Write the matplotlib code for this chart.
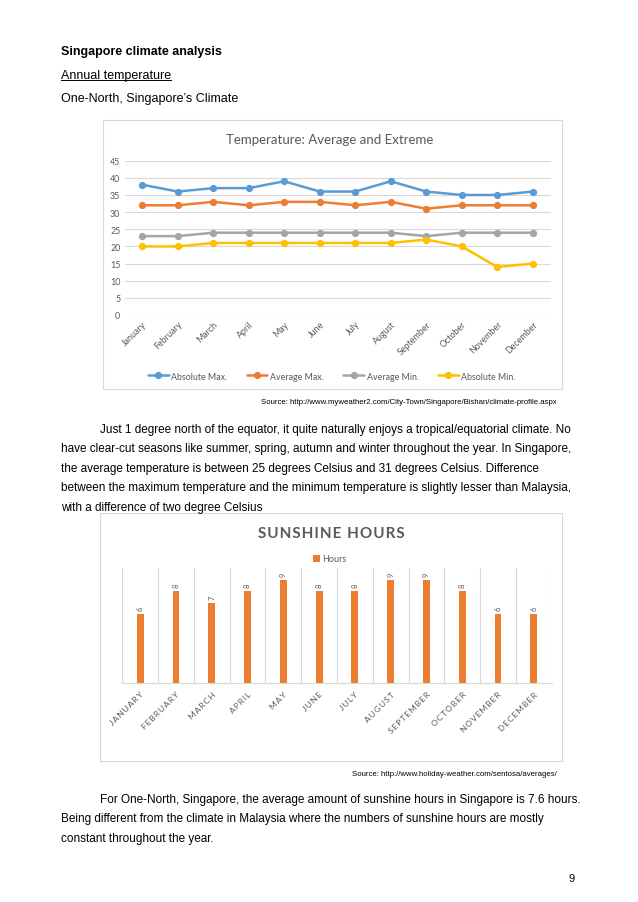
import matplotlib
matplotlib.use("Agg")
import matplotlib.pyplot as plt
from matplotlib.lines import Line2D
from matplotlib.patches import Rectangle

W, H = 638, 903

months = ["January", "February", "March", "April", "May", "June", "July",
          "August", "September", "October", "November", "December"]
abs_max = [38, 36, 37, 37, 39, 36, 36, 39, 36, 35, 35, 36]
avg_max = [32, 32, 33, 32, 33, 33, 32, 33, 31, 32, 32, 32]
avg_min = [23, 23, 24, 24, 24, 24, 24, 24, 23, 24, 24, 24]
abs_min = [20, 20, 21, 21, 21, 21, 21, 21, 22, 20, 14, 15]
series_names = ["Absolute Max.", "Average Max.", "Average Min.", "Absolute Min."]
temp_ticks = [0, 5, 10, 15, 20, 25, 30, 35, 40, 45]

sun_hours = [6, 8, 7, 8, 9, 8, 8, 9, 9, 8, 6, 6]

para1 = [
    "Just 1 degree north of the equator, it quite naturally enjoys a tropical/equatorial climate. No",
    "have clear-cut seasons like summer, spring, autumn and winter throughout the year. In Singapore,",
    "the average temperature is between 25 degrees Celsius and 31 degrees Celsius. Difference",
    "between the maximum temperature and the minimum temperature is slightly lesser than Malaysia,",
    "with a difference of two degree Celsius",
]
para2 = [
    "For One-North, Singapore, the average amount of sunshine hours in Singapore is 7.6 hours.",
    "Being different from the climate in Malaysia where the numbers of sunshine hours are mostly",
    "constant throughout the year.",
]

colors = ["#5B9BD5", "#ED7D31", "#A5A5A5", "#FFC000"]
grey = "#595959"
grid = "#D9D9D9"
page_font = "Liberation Sans"
chart_font = "Lato"


def fx(x):
    return x / W


def fy(y):
    return 1 - y / H


def ax_rect(x0, y0, x1, y1):
    return [fx(x0), fy(y1), (x1 - x0) / W, (y1 - y0) / H]


def spaced(s, sep="\u200a"):
    return sep.join(s)


fig = plt.figure(figsize=(W / 100, H / 100), dpi=100)
fig.patch.set_facecolor("white")

# page text
fs = 8.5
fs_head = 9.0
fig.text(fx(61), fy(52), "Singapore climate analysis", fontsize=fs_head,
         fontweight="bold", family=page_font, va="center")
t_ann = fig.text(fx(61), fy(76), "Annual temperature", fontsize=fs_head,
                 family=page_font, va="center")
fig.text(fx(61), fy(99), "One-North, Singapore\u2019s Climate", fontsize=fs_head,
         family=page_font, va="center")

for i, line in enumerate(para1):
    x = 100 if i == 0 else 61
    fig.text(fx(x), fy(430 + i * 19.4), line, fontsize=fs, family=page_font,
             va="center")
for i, line in enumerate(para2):
    x = 100 if i == 0 else 61
    fig.text(fx(x), fy(800 + i * 19.3), line, fontsize=fs, family=page_font,
             va="center")

fig.text(fx(557), fy(403),
         "Source: http://www.myweather2.com/City-Town/Singapore/Bishan/climate-profile.aspx",
         fontsize=5.6, family=page_font, ha="right", va="center")
fig.text(fx(557), fy(775), "Source: http://www.holiday-weather.com/sentosa/averages/",
         fontsize=5.6, family=page_font, ha="right", va="center")
fig.text(fx(575), fy(879), "9", fontsize=8, family=page_font, ha="right",
         va="center")

# chart boxes
fig.add_artist(Rectangle((fx(103), fy(390)), (562 - 103) / W, (390 - 121) / H,
                         transform=fig.transFigure, fill=False, ec=grid, lw=0.8))
fig.add_artist(Rectangle((fx(100), fy(762)), (562 - 100) / W, (762 - 514) / H,
                         transform=fig.transFigure, fill=False, ec=grid, lw=0.8))

# temperature chart
ax1 = fig.add_axes(ax_rect(124.5, 161.7, 550.5, 316))
xs = list(range(len(months)))
for vals, c, name in zip([abs_max, avg_max, avg_min, abs_min], colors, series_names):
    ax1.plot(xs, vals, color=c, lw=1.8, marker="o", ms=4.2, label=name,
             solid_capstyle="round")
ax1.set_xlim(-0.5, len(months) - 0.5)
ax1.set_ylim(0, 45)
ax1.set_yticks(temp_ticks)
ax1.yaxis.grid(True, color=grid, lw=0.8)
ax1.set_axisbelow(True)
for s in ax1.spines.values():
    s.set_visible(False)
ax1.tick_params(length=0, colors=grey, labelsize=6.4, pad=3)
ax1.set_xticks(xs)
ax1.set_xticklabels(months, rotation=45, ha="right", rotation_mode="anchor",
                    family=chart_font)
for lab in ax1.get_yticklabels():
    lab.set_family(chart_font)
fig.text(fx(330), fy(140), "Temperature: Average and Extreme", fontsize=9.5,
         color=grey, family=chart_font, ha="center", va="center")
fig.legend(*ax1.get_legend_handles_labels(), loc="center",
           bbox_to_anchor=(fx(332), fy(377)), ncol=4, frameon=False,
           prop={"family": chart_font, "size": 6.4}, labelcolor=grey,
           handlelength=2.3, handletextpad=0.3, columnspacing=2.2)

# sunshine chart
ax2 = fig.add_axes(ax_rect(122.3, 569.3, 551.7, 684))
bars = ax2.bar(xs, sun_hours, width=0.19, color=colors[1], label="Hours", zorder=3)
ax2.set_xlim(-0.5, len(months) - 0.5)
ax2.set_ylim(0, 10)
ax2.set_yticks([])
ax2.set_xticks([x - 0.5 for x in xs] + [len(months) - 0.5], minor=True)
ax2.xaxis.grid(True, which="minor", color=grid, lw=0.8)
for k in ["top", "left", "right"]:
    ax2.spines[k].set_visible(False)
ax2.spines["bottom"].set_color(grid)
ax2.set_xticks(xs)
ax2.set_xticklabels([spaced(m.upper(), "\u2009") for m in months], rotation=45,
                    ha="right", rotation_mode="anchor",
                    family=[chart_font, "DejaVu Sans"])
ax2.tick_params(which="both", length=0, colors=grey, labelsize=6.0, pad=5)
for b, v in zip(bars, sun_hours):
    ax2.annotate(str(v), (b.get_x() + b.get_width() / 2, v), xytext=(0, 3),
                 textcoords="offset points", rotation=90, ha="center",
                 va="bottom", fontsize=5.5, color=grey, family=chart_font)
fig.text(fx(331), fy(534), spaced("SUNSHINE HOURS"), fontsize=11,
         fontweight="bold", color=grey, family=[chart_font, "DejaVu Sans"],
         ha="center", va="center")
fig.legend(handles=[bars], labels=["Hours"], loc="center",
           bbox_to_anchor=(fx(330), fy(560)), frameon=False,
           prop={"family": chart_font, "size": 6.5}, labelcolor=grey,
           handlelength=0.7, handleheight=0.7, handletextpad=0.3)

# underline for heading
fig.canvas.draw()
bb = t_ann.get_window_extent()
fig.add_artist(Line2D([bb.x0 / W, bb.x1 / W], [(bb.y0 + 1) / H] * 2,
                      transform=fig.transFigure, color="black", lw=0.7))

fig.savefig("out.png", dpi=100, facecolor="white")
